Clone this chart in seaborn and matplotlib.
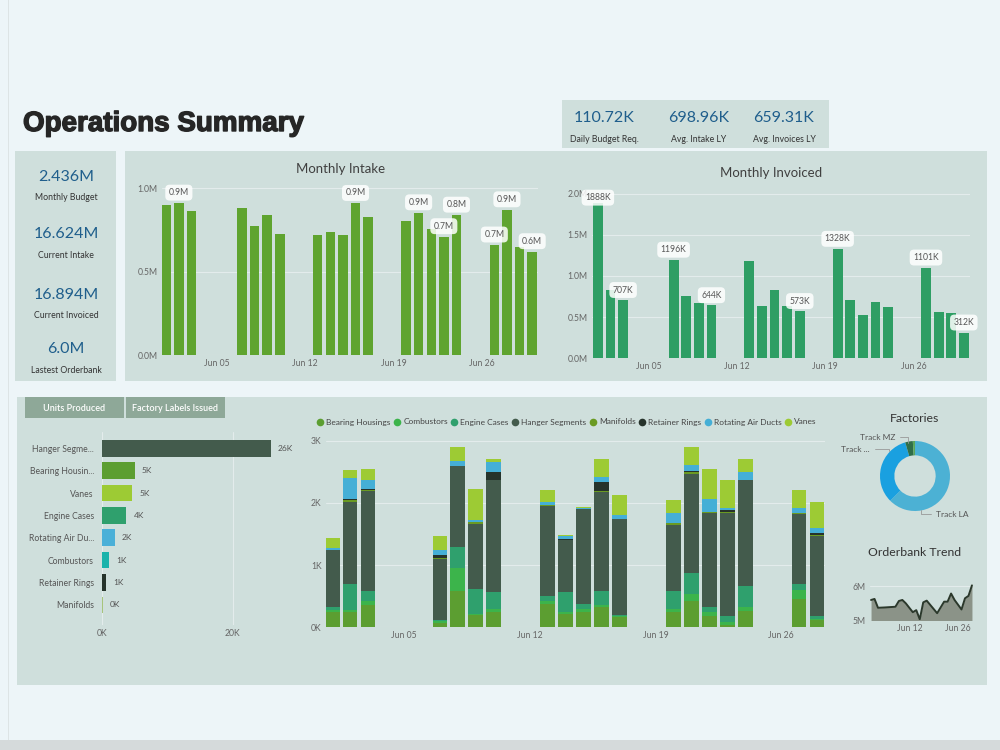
import datetime
import pandas as pd
import matplotlib
matplotlib.use('Agg')
import matplotlib.pyplot as plt
import matplotlib.dates as mdates
import matplotlib.patheffects as pe
from matplotlib.patches import Rectangle
from matplotlib.lines import Line2D
import seaborn as sns

# ---------------- data ----------------
top_kpi_values = ['110.72K', '698.96K', '659.31K']
top_kpi_labels = ['Daily Budget Req.', 'Avg. Intake LY', 'Avg. Invoices LY']
side_kpi_values = ['2.436M', '16.624M', '16.894M', '6.0M']
side_kpi_labels = ['Monthly Budget', 'Current Intake', 'Current Invoiced', 'Lastest Orderbank']

# one bar per working day in June
work_days = [1, 2, 3, 7, 8, 9, 10, 13, 14, 15, 16, 17, 20, 21, 22, 23, 24, 27, 28, 29, 30]
intake_m = [0.897, 0.911, 0.861, 0.879, 0.771, 0.841, 0.728, 0.718, 0.736, 0.718, 0.909,
            0.829, 0.805, 0.853, 0.757, 0.710, 0.839, 0.66, 0.871, 0.650, 0.620]
intake_labelled = [1, 10, 13, 15, 16, 17, 18, 20]
invoiced_k = [1888, 833, 707, 1196, 753, 676, 644, 1183, 640, 833, 632, 573, 1328, 708,
              527, 680, 628, 1101, 563, 553, 312]
invoiced_labelled = [0, 2, 3, 6, 11, 12, 17, 20]

# units per part per day (K)
prod_days = [1, 2, 3, 7, 8, 9, 10, 13, 14, 15, 16, 17, 20, 21, 22, 23, 24, 27, 28]
parts = ['Bearing Housings', 'Combustors', 'Engine Cases', 'Hanger Segments',
         'Manifolds', 'Retainer Rings', 'Rotating Air Ducts', 'Vanes']
bearing_k = [0.24, 0.25, 0.36, 0.07, 0.59, 0.20, 0.25, 0.38, 0.21, 0.24, 0.32, 0.17,
             0.24, 0.43, 0.18, 0.04, 0.26, 0.45, 0.11]
combustors_k = [0.03, 0.02, 0.06, 0.03, 0.37, 0.01, 0.04, 0.05, 0.03, 0.06, 0.04, 0.01,
                0.05, 0.10, 0.06, 0.05, 0.07, 0.15, 0.02]
engine_k = [0.06, 0.42, 0.16, 0.01, 0.33, 0.40, 0.27, 0.08, 0.33, 0.08, 0.23, 0.01,
            0.29, 0.35, 0.09, 0.09, 0.33, 0.09, 0.05]
hanger_k = [0.91, 1.32, 1.61, 0.99, 1.30, 1.05, 1.80, 1.44, 0.84, 1.52, 1.58, 1.55,
            1.07, 1.59, 1.50, 1.66, 1.70, 1.13, 1.29]
manifolds_k = [0.01, 0.03, 0.01, 0.02, 0.01, 0.03, 0.01, 0.01, 0.0, 0.0, 0.02, 0.0,
               0.02, 0.02, 0.02, 0.02, 0.0, 0.02, 0.02]
retainer_k = [0.0, 0.02, 0.03, 0.04, 0.0, 0.0, 0.12, 0.0, 0.01, 0.0, 0.15, 0.0,
              0.0, 0.02, 0.0, 0.02, 0.0, 0.0, 0.03]
rotating_k = [0.02, 0.34, 0.13, 0.08, 0.08, 0.04, 0.17, 0.06, 0.05, 0.02, 0.07, 0.07,
              0.16, 0.10, 0.21, 0.04, 0.13, 0.07, 0.07]
vanes_k = [0.17, 0.13, 0.18, 0.23, 0.21, 0.50, 0.05, 0.19, 0.02, 0.01, 0.30, 0.32,
           0.21, 0.28, 0.48, 0.45, 0.21, 0.30, 0.42]

# units produced by part (K)
unit_labels = ['Hanger Segme...', 'Bearing Housin...', 'Vanes', 'Engine Cases',
               'Rotating Air Du...', 'Combustors', 'Retainer Rings', 'Manifolds']
units_k = [25.8, 5.0, 4.6, 3.7, 1.9, 1.1, 0.6, 0.1]

# factories share (%)
factory_names = ['Track LA', 'Track ...', 'Track MZ', '']
factory_share = [62.5, 33.0, 3.5, 1.0]

# orderbank trend (M)
ob_days = [1, 2, 3, 5, 8, 9, 10, 11, 13, 14, 15, 16, 17, 20, 22, 23, 24, 25, 27, 28, 29, 30]
ob_m = [5.59, 5.62, 5.36, 5.37, 5.39, 5.56, 5.59, 5.49, 5.23, 5.29, 5.02, 5.52, 5.57,
        5.20, 5.54, 5.54, 5.78, 5.59, 5.31, 5.64, 5.71, 6.02]

# ---------------- style ----------------
PAGE = '#edf5f8'
PANEL = '#cfdfdc'
GRID = '#e3ecec'
TICK = '#666666'
BLUE = '#1f5e8c'

sns.set_style('white')
plt.rcParams['font.family'] = ['Lato', 'DejaVu Sans']


def june(d):
    return mdates.date2num(datetime.date(2023, 6, d))


def box(l, t, r, b):
    return [l / 1000, 1 - b / 750, (r - l) / 1000, (b - t) / 750]


def panel(fig, l, t, r, b, color=PANEL):
    fig.add_artist(Rectangle((l / 1000, 1 - b / 750), (r - l) / 1000, (b - t) / 750,
                             transform=fig.transFigure, color=color, lw=0, zorder=0))


def ftext(fig, x, y, s, **kw):
    return fig.text(x / 1000, 1 - y / 750, s, **kw)


def style_axes(ax, grid_axis='y'):
    ax.set_facecolor('none')
    sns.despine(ax=ax, left=True, bottom=True)
    ax.grid(axis=grid_axis, color=GRID, lw=0.8)
    ax.set_axisbelow(True)
    ax.tick_params(length=0, labelsize=6.2, labelcolor=TICK, pad=3)
    ax.set_xlabel('')
    ax.set_ylabel('')


def date_ticks(ax, days, fmt='%b %d'):
    ax.xaxis.set_major_locator(mdates.DayLocator(bymonthday=days))
    ax.xaxis.set_major_formatter(mdates.DateFormatter(fmt))


def tag(ax, x, y, s):
    ax.annotate(s, (x, y), ha='center', va='center', fontsize=6.2, color='#555555',
                bbox=dict(boxstyle='round,pad=0.4,rounding_size=0.5', fc='white',
                          ec='none', alpha=0.85), annotation_clip=False, zorder=5)


fig = plt.figure(figsize=(10, 7.5), dpi=100)
fig.patch.set_facecolor(PAGE)

# panels
panel(fig, 8, 0, 9, 740, '#dde4e5')
panel(fig, 562, 100, 829, 148)
panel(fig, 15, 151, 116, 381)
panel(fig, 125, 151, 987, 381)
panel(fig, 17, 397, 987, 685)
panel(fig, 0, 740, 1000, 750, '#d5dadb')

t = ftext(fig, 23, 124, 'Operations Summary', fontsize=20, fontweight='bold',
          color='#262626', va='center', family=['Liberation Sans', 'DejaVu Sans'])
t.set_path_effects([pe.withStroke(linewidth=1.0, foreground='#262626')])

for x, v, lab in zip([604, 699, 784], top_kpi_values, top_kpi_labels):
    ftext(fig, x, 118, v, fontsize=11.5, color=BLUE, ha='center', va='center')
    ftext(fig, x, 139, lab, fontsize=6.3, color='#333333', ha='center', va='center')

for y, v, lab in zip([177, 234, 295, 349], side_kpi_values, side_kpi_labels):
    ftext(fig, 66, y, v, fontsize=11.5, color=BLUE, ha='center', va='center')
    ftext(fig, 66, y + 21, lab, fontsize=6.3, color='#333333', ha='center', va='center')

# ---- Monthly Intake ----
wx = [june(d) for d in work_days]
ax = fig.add_axes(box(161.7, 187.3, 538, 355))
sns.barplot(x=wx, y=intake_m, native_scale=True, width=0.75, color='#5fa42f',
            saturation=1, errorbar=None, linewidth=0, ax=ax)
style_axes(ax)
ax.set_xlim(june(1) - 0.36, june(30) + 0.46)
ax.set_ylim(0, 1.005)
ax.set_yticks([0, 0.5, 1.0], ['0.0M', '0.5M', '1.0M'])
date_ticks(ax, [5, 12, 19, 26])
for i in intake_labelled:
    tag(ax, wx[i], intake_m[i] + 0.062, f'{intake_m[i]:.1f}M')
ftext(fig, 341, 169, 'Monthly Intake', fontsize=9.5, color='#404040', ha='center', va='center')

# ---- Monthly Invoiced ----
ax = fig.add_axes(box(591.7, 192.7, 970, 358.3))
inv_m = [v / 1000 for v in invoiced_k]
sns.barplot(x=wx, y=inv_m, native_scale=True, width=0.78, color='#2e9e64',
            saturation=1, errorbar=None, linewidth=0, ax=ax)
style_axes(ax)
ax.set_xlim(june(1) - 0.49, june(30) + 0.49)
ax.set_ylim(0, 2.01)
ax.set_yticks([0, 0.5, 1.0, 1.5, 2.0], ['0.0M', '0.5M', '1.0M', '1.5M', '2.0M'])
date_ticks(ax, [5, 12, 19, 26])
for i in invoiced_labelled:
    tag(ax, wx[i], min(inv_m[i] + 0.122, 1.95), f'{invoiced_k[i]}K')
ftext(fig, 771, 173, 'Monthly Invoiced', fontsize=9.5, color='#404040', ha='center', va='center')

# ---- tabs ----
panel(fig, 25, 397, 124, 418, '#8ea898')
panel(fig, 126, 397, 225, 418, '#8ea898')
ftext(fig, 74.5, 408, 'Units Produced', fontsize=6.5, color='white', ha='center',
      va='center', fontweight='semibold')
ftext(fig, 175.5, 408, 'Factory Labels Issued', fontsize=6.5, color='white', ha='center',
      va='center', fontweight='semibold')

# ---- units produced (horizontal bars) ----
unit_colors = ['#435b4c', '#5c9e31', '#9dcb34', '#2fa06d', '#4bb0d8', '#1ab3ab',
               '#26332b', '#a7c47c']
ax = fig.add_axes(box(102.3, 431.5, 298, 625))
sns.barplot(x=units_k, y=unit_labels, hue=unit_labels, palette=unit_colors, legend=False,
            orient='h', width=0.745, saturation=1, linewidth=0, ax=ax)
style_axes(ax, 'x')
ax.set_xlim(0, 30)
ax.set_ylim(7.9, -0.75)
ax.set_xticks([0, 20], ['0K', '20K'])
ax.tick_params(axis='y', labelsize=6.2, labelcolor='#555555', pad=6)
for i, v in enumerate(units_k):
    ax.annotate(f'{v:.0f}K', (v, i), xytext=(5, 0), textcoords='offset points',
                ha='left', va='center', fontsize=6, color='#555555')

# ---- stacked daily units ----
part_colors = ['#5c9e31', '#3cb44b', '#2fa06d', '#435b4c', '#6a9a22', '#26332b',
               '#45afd6', '#9dcb34']
part_values = [bearing_k, combustors_k, engine_k, hanger_k, manifolds_k, retainer_k,
               rotating_k, vanes_k]
rows = []
for p, vals in zip(parts, part_values):
    for d, v in zip(prod_days, vals):
        rows.append({'day': june(d), 'part': p, 'units': v})
df = pd.DataFrame(rows)

ax = fig.add_axes(box(325.8, 440, 825.1, 627.3))
sns.histplot(df, x='day', weights='units', hue='part', hue_order=parts[::-1],
             palette=dict(zip(parts, part_colors)), multiple='stack', discrete=True,
             shrink=0.82, alpha=1, linewidth=0, legend=False, ax=ax)
style_axes(ax)
ax.set_xlim(june(1) - 0.354, june(28) + 0.45)
ax.set_ylim(0, 3.01)
ax.set_yticks([0, 1, 2, 3], ['0K', '1K', '2K', '3K'])
date_ticks(ax, [5, 12, 19, 26])
handles = [Line2D([], [], marker='o', ls='', markersize=5.5, markerfacecolor=c,
                  markeredgecolor='none') for c in part_colors]
ax.legend(handles, parts, ncol=8, loc='center', bbox_to_anchor=(567 / 1000, 1 - 422 / 750),
          bbox_transform=fig.transFigure, frameon=False, fontsize=6, labelcolor='#444444',
          handletextpad=0.35, columnspacing=0.45, handlelength=0.7, borderpad=0)

# ---- factories donut ----
ftext(fig, 915, 418, 'Factories', fontsize=8.8, color='#333333', ha='center', va='center')
ax = fig.add_axes(box(860, 421, 970, 531))
ax.pie(factory_share, colors=['#4cb1d4', '#1aa0e0', '#2f6e48', '#5aa65a'], startangle=90,
       counterclock=False, wedgeprops=dict(width=0.41, edgecolor='none'))
ax.set_xlim(-1.571, 1.571)
ax.set_ylim(-1.571, 1.571)
ax.set_aspect('equal')
lead = dict(arrowstyle='-', color='#999999', lw=0.6, shrinkA=1, shrinkB=0,
            connectionstyle='angle,angleA=0,angleB=90')
ax.annotate(factory_names[0], (0.17, -0.97), xytext=(0.6, -1.09), ha='left', va='center',
            fontsize=6, color='#555555', arrowprops=lead)
ax.annotate(factory_names[1], (-0.74, 0.71), xytext=(-1.29, 0.77), ha='right', va='center',
            fontsize=6, color='#555555', arrowprops=lead)
ax.annotate(factory_names[2], (-0.2, 0.94), xytext=(-0.57, 1.11), ha='right', va='center',
            fontsize=6, color='#555555', arrowprops=lead)

# ---- orderbank trend ----
ftext(fig, 915, 552, 'Orderbank Trend', fontsize=8.8, color='#333333', ha='center', va='center')
ox = [june(d) for d in ob_days]
ax = fig.add_axes(box(870, 583, 973, 620))
ax.fill_between(ox, ob_m, 4.9, color='#8b9388', lw=0)
sns.lineplot(x=ox, y=ob_m, color='#2b382b', lw=1.4, ax=ax)
style_axes(ax)
ax.set_xlim(june(1) - 0.3, june(30) + 0.3)
ax.set_ylim(5.0, 6.09)
ax.set_yticks([5, 6], ['5M', '6M'])
date_ticks(ax, [12, 26])

fig.savefig('out.png', dpi=100, facecolor=PAGE)
